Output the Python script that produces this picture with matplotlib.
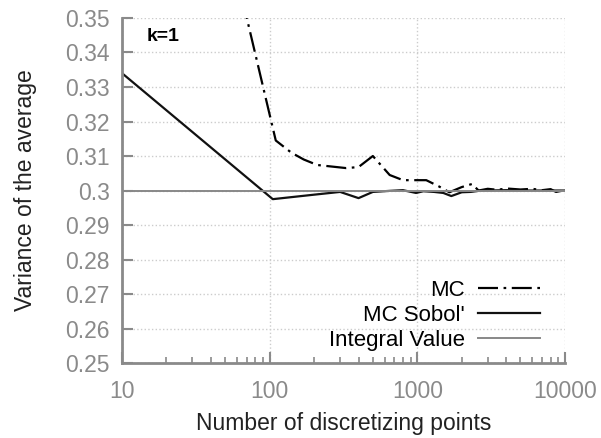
import matplotlib
matplotlib.use("Agg")
import matplotlib.pyplot as plt

plt.rcParams['font.family'] = ['Liberation Sans', 'DejaVu Sans']

# --- data ---
n_mc = [50, 70, 110, 140, 170, 210, 330, 400, 500, 550, 650, 800, 1150, 1400,
        1650, 2000, 2350, 2600, 3000, 3500, 4000, 5000, 6000, 7000, 8000,
        8700, 10000]
var_mc = [0.40, 0.35, 0.3145, 0.311, 0.309, 0.3074, 0.3065, 0.3068, 0.310,
          0.308, 0.3045, 0.303, 0.303, 0.3012, 0.2995, 0.301, 0.3019, 0.3000,
          0.3005, 0.3002, 0.3006, 0.3003, 0.3005, 0.3001, 0.3004, 0.2996,
          0.3001]

n_sobol = [10, 105, 200, 300, 400, 500, 650, 800, 980, 1100, 1300, 1500, 1700,
           2000, 2300, 2600, 3000, 4000, 5000, 7000, 10000]
var_sobol = [0.334, 0.2975, 0.2988, 0.2996, 0.2978, 0.2996, 0.2999, 0.3001,
             0.2993, 0.2998, 0.2996, 0.2993, 0.2984, 0.2995, 0.2996, 0.2999,
             0.3000, 0.3001, 0.3000, 0.3000, 0.3000]

n_int = [10, 10000]
var_int = [0.30, 0.30]

y_ticks = [0.25, 0.26, 0.27, 0.28, 0.29, 0.30, 0.31, 0.32, 0.33, 0.34, 0.35]
y_labels = ['0.25', '0.26', '0.27', '0.28', '0.29', '0.3', '0.31', '0.32',
            '0.33', '0.34', '0.35']
x_ticks = [10, 100, 1000, 10000]
x_labels = ['10', '100', '1000', '10000']

# --- figure ---
fig = plt.figure(figsize=(6.01, 4.38), dpi=100)
ax = fig.add_axes([0.203, 0.171, 0.737, 0.788])

ax.plot(n_mc, var_mc, color='black', lw=1.6, dashes=(9, 2.5, 1.2, 2.5),
        label='MC')
ax.plot(n_sobol, var_sobol, color='#111111', lw=1.6, label="MC Sobol'")
ax.plot(n_int, var_int, color='#888888', lw=1.4, label='Integral Value')

ax.set_xscale('log')
ax.set_xlim(10, 10000)
ax.set_ylim(0.25, 0.35)
ax.set_xticks(x_ticks)
ax.set_xticklabels(x_labels)
ax.set_yticks(y_ticks)
ax.set_yticklabels(y_labels)

gray = '#8a8a8a'
for side in ['top', 'right']:
    ax.spines[side].set_visible(False)
for side in ['left', 'bottom']:
    ax.spines[side].set_color(gray)
    ax.spines[side].set_linewidth(2)

ax.tick_params(axis='both', which='major', direction='in', length=8,
               width=1.5, color=gray, labelcolor=gray, labelsize=16.5)
ax.tick_params(axis='x', which='major', pad=12)
ax.tick_params(axis='y', which='major', pad=9)
ax.tick_params(axis='x', which='minor', direction='in', length=4,
               width=1.2, color=gray)
ax.tick_params(axis='y', which='minor', left=False)

ax.grid(True, which='major', color='#cccccc', linestyle=':', linewidth=1)

ax.set_xlabel('Number of discretizing points', fontsize=16.5,
              color='#222222', labelpad=7)
ax.set_ylabel('Variance of the average', fontsize=16.5, color='#222222',
              labelpad=20)

ax.text(0.056, 0.945, 'k=1', transform=ax.transAxes, fontsize=14,
        fontweight='bold', ha='left', va='center')

leg = ax.legend(loc='lower right', frameon=False, markerfirst=False,
                fontsize=16, handlelength=2.8, handletextpad=0.6,
                labelspacing=0.18, borderpad=0, borderaxespad=0,
                bbox_to_anchor=(0.944, 0.035))

fig.savefig('out.png', dpi=100)
